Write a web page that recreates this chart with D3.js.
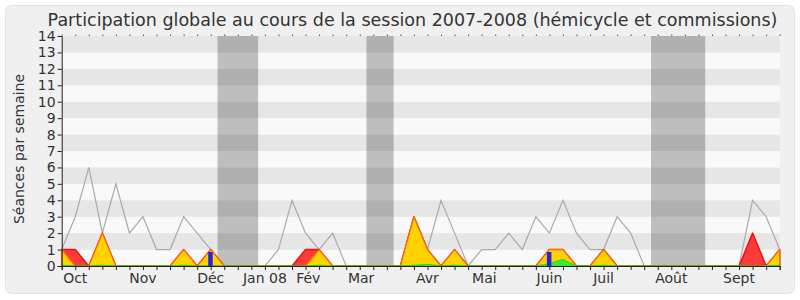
<!DOCTYPE html>
<html>
<head>
<meta charset="utf-8">
<script src="https://cdn.jsdelivr.net/npm/d3@7"></script>
<style>
  body { margin: 0; background: #fff; }
  text { font-family: "DejaVu Sans", sans-serif; fill: #333; }
</style>
</head>
<body>
<div id="chart"></div>
<script>
// weekly values, session 2007-2008 (week 0 = début oct.)
var medianLine = [1, 3, 6, 2, 5, 2, 3, 1, 1, 3, 2, 1, 0, 0, 0, 0, 1, 4, 2, 1, 2, 0, 0, 0, 0, 0, 3, 1, 4, 2,
  0, 1, 1, 2, 1, 3, 2, 4, 2, 1, 1, 3, 2, 0, 0, 0, 0, 0, 0, 0, 0, 4, 3, 1];
var presenceTotal = [1, 1, 0, 2, 0, 0, 0, 0, 0, 1, 0, 1, 0, 0, 0, 0, 0, 0, 1, 1, 0, 0, 0, 0, 0, 0, 3, 1, 0, 1,
  0, 0, 0, 0, 0, 0, 1, 1, 0, 0, 1, 0, 0, 0, 0, 0, 0, 0, 0, 0, 0, 2, 0, 1];
var presenceCommission = [1, 0, 0, 2, 0, 0, 0, 0, 0, 1, 0, 1, 0, 0, 0, 0, 0, 0, 0, 1, 0, 0, 0, 0, 0, 0, 3, 1, 0, 1,
  0, 0, 0, 0, 0, 0, 1, 1, 0, 0, 1, 0, 0, 0, 0, 0, 0, 0, 0, 0, 0, 0, 0, 1];
var interventions = [0.05, 0, 0, 0.05, 0, 0, 0, 0, 0, 0.05, 0, 0, 0, 0, 0, 0, 0, 0, 0, 0.05, 0, 0, 0, 0, 0, 0, 0.05, 0.1, 0, 0.05,
  0, 0, 0, 0, 0, 0, 0.15, 0.4, 0, 0, 0.05, 0, 0, 0, 0, 0, 0, 0, 0, 0, 0, 0, 0, 0.05];
var questionWeeks = [11, 36];
var questionValues = [0.85, 0.85];
var vacStart = [11.5, 22.5, 43.5];
var vacEnd = [14.5, 24.5, 47.5];
var monthLabels = ['Oct', 'Nov', 'Déc', 'Jan 08', 'Fév', 'Mar', 'Avr', 'Mai', 'Juin', 'Juil', 'Août', 'Sept'];
var monthWeeks = [1, 6, 11, 15, 18.2, 22.1, 27, 31.2, 36, 40, 45, 50];
var yMax = 14;

var width = 800, height = 300;
var plot = { left: 61.7, right: 779.7, top: 36, bottom: 266 };

var svg = d3.select('#chart').append('svg')
  .attr('width', width)
  .attr('height', height);

svg.append('rect')
  .attr('x', 5.5).attr('y', 5.5)
  .attr('width', 789).attr('height', 288)
  .attr('rx', 6).attr('ry', 6)
  .style('fill', '#f0f0f0')
  .style('stroke', '#e2e2e2');

var x = d3.scaleLinear().domain([0, medianLine.length - 1]).range([plot.left, plot.right]);
var y = d3.scaleLinear().domain([0, yMax]).range([plot.bottom, plot.top]);

// bandes horizontales
svg.append('g').selectAll('rect')
  .data(d3.range(yMax))
  .enter().append('rect')
  .attr('x', plot.left)
  .attr('y', function (d) { return y(d + 1); })
  .attr('width', plot.right - plot.left)
  .attr('height', function (d) { return y(d) - y(d + 1); })
  .style('fill', function (d) { return d % 2 ? '#e6e6e6' : '#f9f9f9'; });

// vacances parlementaires
svg.append('g').selectAll('rect')
  .data(vacStart)
  .enter().append('rect')
  .attr('x', function (d) { return x(d); })
  .attr('y', plot.top)
  .attr('width', function (d, i) { return x(vacEnd[i]) - x(d); })
  .attr('height', plot.bottom - plot.top)
  .style('fill', 'rgba(0,0,0,0.235)');

var line = d3.line()
  .x(function (d, i) { return x(i); })
  .y(function (d) { return y(d); });
var area = d3.area()
  .x(function (d, i) { return x(i); })
  .y0(y(0))
  .y1(function (d) { return y(d); });

svg.append('path')
  .datum(medianLine)
  .attr('d', line)
  .style('fill', 'none')
  .style('stroke', '#aaa')
  .style('stroke-width', 1.2);

svg.append('path')
  .datum(presenceTotal)
  .attr('d', area)
  .style('fill', '#ff3a3a')
  .style('stroke', '#ee1111')
  .style('stroke-width', 1.5)
  .style('stroke-linejoin', 'round');

svg.append('path')
  .datum(presenceCommission)
  .attr('d', area)
  .style('fill', '#ffd200')
  .style('stroke', '#ff6a00')
  .style('stroke-width', 1.2)
  .style('stroke-linejoin', 'round');

svg.append('path')
  .datum(interventions)
  .attr('d', area)
  .style('fill', '#33ee33')
  .style('stroke', '#22cc22')
  .style('stroke-width', 0.8);

svg.append('g').selectAll('rect')
  .data(questionWeeks)
  .enter().append('rect')
  .attr('x', function (d) { return x(d) - 2.5; })
  .attr('y', function (d, i) { return y(questionValues[i]); })
  .attr('width', 4.5)
  .attr('height', function (d, i) { return y(0) - y(questionValues[i]); })
  .style('fill', '#2424dd');

// axes
var yAxis = svg.append('g')
  .attr('transform', 'translate(' + plot.left + ',0)')
  .call(d3.axisLeft(y).ticks(yMax).tickSize(4).tickPadding(2));
yAxis.selectAll('text').style('font-size', '14px').style('fill', '#333');

var xAxis = svg.append('g')
  .attr('transform', 'translate(0,' + plot.bottom + ')')
  .call(d3.axisBottom(x).tickValues(d3.range(medianLine.length)).tickSize(4).tickFormat(''));

var topTicks = svg.append('g')
  .attr('transform', 'translate(0,' + plot.top + ')')
  .call(d3.axisTop(x).tickValues(d3.range(medianLine.length)).tickSize(1.5).tickFormat(''));
topTicks.select('.domain').remove();
topTicks.selectAll('line').style('stroke', '#555');

[yAxis, xAxis].forEach(function (a) {
  a.selectAll('.domain, line').style('stroke', '#222');
});

svg.append('g').selectAll('text')
  .data(monthLabels)
  .enter().append('text')
  .attr('x', function (d, i) { return x(monthWeeks[i]); })
  .attr('y', 283)
  .attr('text-anchor', 'middle')
  .style('font-size', '14px')
  .text(function (d) { return d; });

svg.append('text')
  .attr('x', 412.5)
  .attr('y', 26)
  .attr('text-anchor', 'middle')
  .style('font-size', '17.5px')
  .text('Participation globale au cours de la session 2007-2008 (hémicycle et commissions)');

svg.append('text')
  .attr('transform', 'translate(24,149) rotate(-90)')
  .attr('text-anchor', 'middle')
  .style('font-size', '14px')
  .text('Séances par semaine');
</script>
</body>
</html>
